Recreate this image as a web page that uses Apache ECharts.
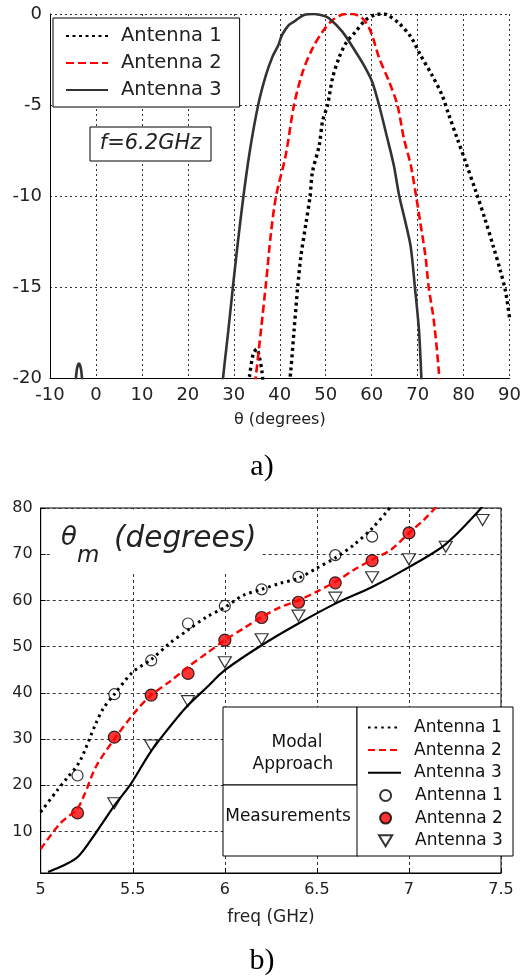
<!DOCTYPE html>
<html>
<head>
<meta charset="utf-8">
<script src="https://cdn.jsdelivr.net/npm/echarts@6/dist/echarts.min.js"></script>
<style>
  html, body { margin: 0; padding: 0; background: #fff; }
  #chart { width: 524px; height: 980px; }
</style>
</head>
<body>
<div id="chart"></div>
<script>
// ---- a) radiation pattern cuts at f = 6.2 GHz: [theta (deg), gain (dB)] ----
const thetaAnt1 = [
  [32.6, -21], [33.4, -19.9], [34.2, -18.7], [35.0, -18.4], [35.6, -18.9], [36.1, -19.6], [36.6, -20.8],
  [39, '-'],
  [41.8, -21], [42.4, -19.6], [43.1, -17.4], [43.9, -15], [44.6, -13.3], [45.7, -11.5], [46.6, -10],
  [47.1, -8.7], [48.6, -7.2], [49.3, -5.9], [50.4, -5], [51.5, -3.5], [52.9, -2.4], [54.4, -1.6],
  [56.5, -0.97], [58.7, -0.33], [60.9, -0.03], [62.5, 0], [63.4, -0.05], [65.9, -0.5], [68.5, -1.25],
  [70.6, -2.25], [73.1, -3.35], [75.3, -4.45], [76.8, -5.55], [78.6, -6.83], [80.4, -8.1], [82.6, -9.7],
  [84.7, -11.3], [86.5, -12.8], [88.0, -14.1], [89.1, -15.2], [90, -16.7]
];
const thetaAnt2 = [
  [34.3, -21], [34.8, -19.9], [35.9, -17.4], [37.0, -14.8], [38.1, -12.0], [39.2, -10], [41.3, -7.75],
  [43.1, -5], [45.0, -3.17], [47.1, -1.9], [49.3, -0.97], [51.5, -0.33], [53.6, -0.03], [54.7, 0],
  [55.8, 0], [58.0, -0.24], [59.8, -0.97], [61.6, -2.4], [63.8, -3.72], [65.6, -5], [67.0, -6.83],
  [68.5, -8.3], [69.6, -9.9], [70.6, -11.5], [71.7, -13.3], [72.4, -15], [73.5, -16.8], [74.6, -19.6],
  [74.9, -21]
];
const thetaAnt3 = [
  [-4.6, -21], [-4.2, -19.6], [-3.7, -19.2], [-3.2, -19.6], [-2.8, -21],
  [10, '-'],
  [27.4, -21], [27.7, -19.9], [28.8, -17.4], [29.8, -15], [30.9, -12.5], [32.1, -10], [33.5, -7.5],
  [35.3, -5], [37.0, -3.35], [38.5, -2.3], [39.7, -1.7], [40.5, -1.15], [42.0, -0.6], [43.1, -0.42],
  [45.3, -0.05], [47.5, 0], [49.5, -0.1], [50.7, -0.24], [53.6, -0.97], [56.5, -2.07], [58.5, -2.9],
  [60.1, -3.72], [61.6, -5], [63.4, -6.83], [64.8, -8.3], [66.0, -10], [67.4, -11.5], [68.5, -12.8],
  [69.4, -15], [70.3, -17.4], [70.8, -19.9], [71.0, -21]
];

// ---- b) beam direction vs frequency: [freq (GHz), theta_m (deg)] ----
const freqModal1 = [
  [5.0, 14.2], [5.09, 18.9], [5.14, 21.4], [5.21, 25], [5.30, 33.4], [5.34, 36.6], [5.40, 39.7],
  [5.50, 44.5], [5.60, 47.2], [5.70, 50.7], [5.80, 53.6], [5.90, 56.4], [6.00, 58.5], [6.10, 61.1],
  [6.20, 62.4], [6.30, 63.7], [6.40, 64.8], [6.50, 67.0], [6.60, 69.2], [6.70, 72.0], [6.80, 75.6],
  [6.88, 79.2], [6.90, 80.3]
];
const freqModal2 = [
  [5.0, 6.2], [5.105, 11.7], [5.20, 15.0], [5.24, 18.2], [5.30, 24.0], [5.40, 30.0], [5.52, 36.2],
  [5.60, 39.5], [5.70, 42.4], [5.80, 45.6], [5.90, 48.5], [6.00, 51.4], [6.10, 53.9], [6.20, 56.4],
  [6.30, 58.5], [6.40, 60.0], [6.50, 61.9], [6.60, 64.0], [6.70, 66.6], [6.80, 68.8], [6.90, 70.9],
  [7.00, 74.6], [7.08, 77.4], [7.15, 80.3]
];
const freqModal3 = [
  [5.04, 1.2], [5.19, 4.1], [5.27, 8.0], [5.40, 15.6], [5.49, 20.3], [5.59, 26.8], [5.68, 31.6],
  [5.79, 36.9], [5.90, 41.1], [6.00, 44.9], [6.20, 50.3], [6.40, 55.0], [6.60, 59.3], [6.80, 62.9],
  [7.00, 67.2], [7.20, 72.2], [7.40, 80.3]
];
const freqMeas1 = [
  [5.2, 22.1], [5.4, 39.7], [5.6, 47.0], [5.8, 55.0], [6.0, 58.8], [6.2, 62.4], [6.4, 65.1],
  [6.6, 69.8], [6.8, 73.8]
];
const freqMeas2 = [
  [5.2, 14.0], [5.4, 30.4], [5.6, 39.5], [5.8, 44.2], [6.0, 51.4], [6.2, 56.3], [6.4, 59.6],
  [6.6, 63.8], [6.8, 68.6], [7.0, 74.6]
];
const freqMeas3 = [
  [5.4, 16.1], [5.6, 28.6], [5.8, 38.2], [6.0, 46.6], [6.2, 51.6], [6.4, 56.7], [6.6, 60.6],
  [6.8, 65.0], [7.0, 68.9], [7.2, 71.6], [7.4, 77.4]
];

// tick labels
const thetaTickStep = 10;
const gainTickStep = 5;
const freqTickStep = 0.5;
const thetaMTicks = [10, 20, 30, 40, 50, 60, 70, 80];

const FONT = '"DejaVu Sans", sans-serif';
const legendLabel = name => name.replace(/^(Modal|Measured) /, '');
const triangleDown = 'path://M0,0L12,0L6,10Z';
const SMOOTH = 0.3;

const chart = echarts.init(document.getElementById('chart'), null, { renderer: 'canvas' });

chart.setOption({
  animation: false,
  backgroundColor: '#fff',
  title: [
    { text: 'a)', left: 'center', top: 447,
      textStyle: { fontFamily: '"Liberation Serif", serif', fontSize: 30, fontWeight: 'normal', color: '#000' } },
    { text: 'b)', left: 'center', top: 941,
      textStyle: { fontFamily: '"Liberation Serif", serif', fontSize: 30, fontWeight: 'normal', color: '#000' } }
  ],
  grid: [
    { left: 50, right: 13, top: 14, height: 364, containLabel: false },
    { left: 40.7, right: 23, top: 508, height: 365, containLabel: false,
      show: true, borderColor: '#000', borderWidth: 1, backgroundColor: 'transparent' }
  ],
  xAxis: [
    {
      gridIndex: 0, type: 'value', min: -10, max: 90, interval: thetaTickStep,
      name: 'θ (degrees)', nameLocation: 'middle', nameGap: 34,
      nameTextStyle: { fontFamily: FONT, fontSize: 16, color: '#222' },
      axisLine: { show: true, onZero: false, lineStyle: { color: '#000', width: 1 } },
      axisTick: { show: false },
      axisLabel: { fontFamily: FONT, fontSize: 18, color: '#222', margin: 8 },
      splitLine: { show: true, lineStyle: { color: '#333', width: 1, type: [2, 3] } }
    },
    {
      gridIndex: 1, type: 'value', min: 5, max: 7.5, interval: freqTickStep,
      name: 'freq (GHz)', nameLocation: 'middle', nameGap: 36,
      nameTextStyle: { fontFamily: FONT, fontSize: 17, color: '#222' },
      axisLine: { show: true, onZero: false, lineStyle: { color: '#000', width: 1 } },
      axisTick: { show: true, inside: true, length: 5, lineStyle: { color: '#000' } },
      axisLabel: { fontFamily: FONT, fontSize: 16, color: '#222', margin: 9 },
      splitLine: { show: true, lineStyle: { color: '#333', width: 1, type: [3, 3] } }
    }
  ],
  yAxis: [
    {
      gridIndex: 0, type: 'value', min: -20, max: 0, interval: gainTickStep,
      axisLine: { show: true, onZero: false, lineStyle: { color: '#000', width: 1 } },
      axisTick: { show: false },
      axisLabel: { fontFamily: FONT, fontSize: 18, color: '#222', margin: 8 },
      splitLine: { show: true, lineStyle: { color: '#333', width: 1, type: [2, 3] } }
    },
    {
      gridIndex: 1, type: 'value', min: 1, max: 80,
      axisLine: { show: true, onZero: false, lineStyle: { color: '#000', width: 1 } },
      axisTick: { show: true, inside: true, length: 5, customValues: thetaMTicks, lineStyle: { color: '#000' } },
      axisLabel: { fontFamily: FONT, fontSize: 16, color: '#222', margin: 8, customValues: thetaMTicks },
      splitLine: { show: true, lineStyle: { color: '#333', width: 1, type: [3, 3] } }
    }
  ],
  legend: [
    {
      data: ['Antenna 1', 'Antenna 2', 'Antenna 3'],
      orient: 'vertical', left: 53, top: 18,
      itemWidth: 42, itemHeight: 14, itemGap: 7,
      padding: [8, 18, 7, 12],
      backgroundColor: '#fff', borderColor: '#000', borderWidth: 1, borderRadius: 0,
      itemStyle: { opacity: 0 },
      textStyle: { fontFamily: FONT, fontSize: 19.5, color: '#222', padding: [0, 0, 0, 8] },
      selectedMode: false
    },
    {
      data: ['Modal Antenna 1', 'Modal Antenna 2', 'Modal Antenna 3'],
      formatter: legendLabel,
      orient: 'vertical', left: 367, top: 719,
      itemWidth: 33, itemHeight: 14, itemGap: 5.6, padding: 0,
      itemStyle: { opacity: 0 },
      textStyle: { fontFamily: FONT, fontSize: 17, color: '#111', padding: [0, 0, 0, 8] },
      selectedMode: false
    },
    {
      data: ['Measured Antenna 1', 'Measured Antenna 2', 'Measured Antenna 3'],
      formatter: legendLabel,
      orient: 'vertical', left: 378, top: 787,
      itemWidth: 33, itemHeight: 11, itemGap: 5.6, padding: 0,
      textStyle: { fontFamily: FONT, fontSize: 17, color: '#111', padding: [0, 0, 0, 8] },
      selectedMode: false
    }
  ],
  graphic: [
    // frequency tag in panel a)
    { type: 'rect', z: 10, shape: { x: 90, y: 127, width: 121, height: 34 },
      style: { fill: '#fff', stroke: '#000', lineWidth: 1 } },
    { type: 'text', z: 11, x: 150.5, y: 144,
      style: { text: 'f=6.2GHz', fontFamily: FONT, fontStyle: 'italic', fontSize: 21,
               fill: '#222', align: 'center', verticalAlign: 'middle' } },
    // axis caption inside panel b)
    { type: 'rect', z: 1, shape: { x: 52, y: 509.5, width: 208, height: 64 },
      style: { fill: '#fff', lineWidth: 0 } },
    { type: 'text', z: 2, x: 61, y: 538,
      style: { text: 'θ', fontFamily: FONT, fontStyle: 'italic', fontSize: 26,
               fill: '#222', align: 'left', verticalAlign: 'middle' } },
    { type: 'text', z: 2, x: 77, y: 556,
      style: { text: 'm', fontFamily: FONT, fontStyle: 'italic', fontSize: 23,
               fill: '#222', align: 'left', verticalAlign: 'middle' } },
    { type: 'text', z: 2, x: 114, y: 539,
      style: { text: '(degrees)', fontFamily: FONT, fontStyle: 'italic', fontSize: 29.5,
               fill: '#222', align: 'left', verticalAlign: 'middle' } },
    // legend frames in panel b)
    { type: 'rect', z: 3, shape: { x: 223, y: 707, width: 134, height: 78 },
      style: { fill: '#fff', stroke: '#000', lineWidth: 1 } },
    { type: 'rect', z: 3, shape: { x: 223, y: 785, width: 135, height: 71 },
      style: { fill: '#fff', stroke: '#000', lineWidth: 1 } },
    { type: 'rect', z: 3, shape: { x: 357, y: 707, width: 156, height: 149 },
      style: { fill: '#fff', stroke: '#000', lineWidth: 1 } },
    { type: 'text', z: 4, x: 297, y: 743,
      style: { text: 'Modal', fontFamily: FONT, fontSize: 17, fill: '#111', align: 'center', verticalAlign: 'middle' } },
    { type: 'text', z: 4, x: 293, y: 765,
      style: { text: 'Approach', fontFamily: FONT, fontSize: 17, fill: '#111', align: 'center', verticalAlign: 'middle' } },
    { type: 'text', z: 4, x: 288, y: 817,
      style: { text: 'Measurements', fontFamily: FONT, fontSize: 17, fill: '#111', align: 'center', verticalAlign: 'middle' } }
  ],
  series: [
    // panel a)
    { name: 'Antenna 1', type: 'line', xAxisIndex: 0, yAxisIndex: 0, data: thetaAnt1,
      symbol: 'none', clip: true, connectNulls: false, smooth: SMOOTH,
      lineStyle: { color: '#000', width: 3.4, type: [3, 3.5], cap: 'butt' }, itemStyle: { color: '#000' } },
    { name: 'Antenna 2', type: 'line', xAxisIndex: 0, yAxisIndex: 0, data: thetaAnt2,
      symbol: 'none', clip: true, smooth: SMOOTH,
      lineStyle: { color: '#ff0000', width: 2.6, type: [8, 4], cap: 'butt' }, itemStyle: { color: '#ff0000' } },
    { name: 'Antenna 3', type: 'line', xAxisIndex: 0, yAxisIndex: 0, data: thetaAnt3,
      symbol: 'none', clip: true, connectNulls: false, smooth: SMOOTH,
      lineStyle: { color: '#333', width: 2.6 }, itemStyle: { color: '#333' } },
    // panel b) modal approach
    { name: 'Modal Antenna 1', type: 'line', xAxisIndex: 1, yAxisIndex: 1, data: freqModal1,
      symbol: 'none', clip: true, smooth: SMOOTH,
      lineStyle: { color: '#000', width: 3, type: [2.6, 4], cap: 'butt' }, itemStyle: { color: '#000' } },
    { name: 'Modal Antenna 2', type: 'line', xAxisIndex: 1, yAxisIndex: 1, data: freqModal2,
      symbol: 'none', clip: true, smooth: SMOOTH,
      lineStyle: { color: '#ff0000', width: 2.4, type: [7, 4], cap: 'butt' }, itemStyle: { color: '#ff0000' } },
    { name: 'Modal Antenna 3', type: 'line', xAxisIndex: 1, yAxisIndex: 1, data: freqModal3,
      symbol: 'none', clip: true, smooth: SMOOTH,
      lineStyle: { color: '#000', width: 2.2 }, itemStyle: { color: '#000' } },
    // panel b) measurements
    { name: 'Measured Antenna 1', type: 'scatter', xAxisIndex: 1, yAxisIndex: 1, data: freqMeas1,
      symbol: 'circle', symbolSize: 11,
      itemStyle: { color: '#fff', borderColor: '#000', borderWidth: 1.2 } },
    { name: 'Measured Antenna 2', type: 'scatter', xAxisIndex: 1, yAxisIndex: 1, data: freqMeas2,
      symbol: 'circle', symbolSize: 12,
      itemStyle: { color: '#ff0000', borderColor: '#000', borderWidth: 1.2 } },
    { name: 'Measured Antenna 3', type: 'scatter', xAxisIndex: 1, yAxisIndex: 1, data: freqMeas3,
      symbol: triangleDown, symbolSize: [13, 11],
      itemStyle: { color: '#fff', borderColor: '#000', borderWidth: 1.2 } }
  ]
});
</script>
</body>
</html>
